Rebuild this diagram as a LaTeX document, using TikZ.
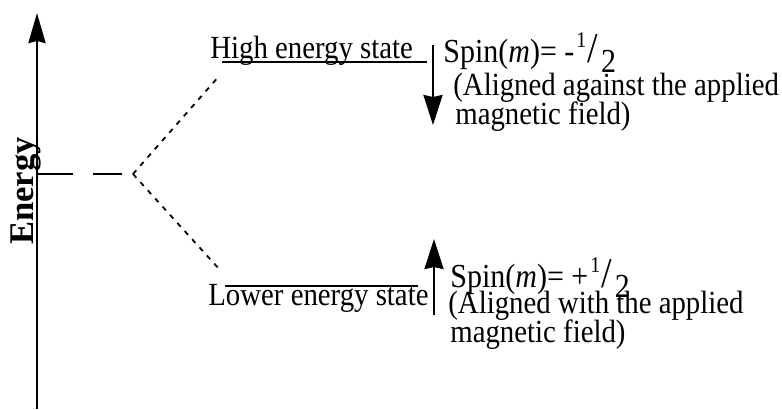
\documentclass[tikz,border=0pt]{standalone}
\usepackage{fontspec}
\setmainfont{Liberation Serif}
\usetikzlibrary{arrows.meta}
\newcommand{\tall}[1]{\scalebox{1}[1.12]{#1}}
\newcommand{\half}[1]{#1\kern1pt\raisebox{6.5pt}{\fontsize{10}{10}\selectfont 1}\kern0.5pt{\fontsize{19}{19}\selectfont /}\kern1.5pt\raisebox{-4.5pt}{2}}

\begin{document}
\begin{tikzpicture}[
  x=0.5pt, y=-0.5pt,
  axis/.style={line width=1.4pt, -{Stealth[length=15pt,width=8.5pt,inset=1pt]}},
  level/.style={line width=1pt},
  split/.style={line width=0.9pt, dash pattern=on 2.5pt off 3pt},
  base/.style={line width=1.3pt, dash pattern=on 18pt off 10pt on 14.5pt off 5.5pt},
  spinarr/.style={line width=1.2pt, -{Stealth[length=15pt,width=9.5pt,inset=1pt]}},
  lbl/.style={anchor=base west, inner sep=0pt, font=\fontsize{14.4}{16}\selectfont},
  spinlbl/.style={lbl, font=\fontsize{15}{17}\selectfont}
]
  \useasboundingbox (0,0) rectangle (782,409);

  % energy axis
  \coordinate (ax0) at (37,409);
  \coordinate (ax1) at (37,13);
  \draw[axis] (ax0) -- (ax1);
  \node[rotate=90, anchor=base, inner sep=0pt, font=\fontsize{17.3}{20}\selectfont\bfseries]
    (energy) at (33,191) {Energy};

  % splitting
  \coordinate (e0) at (37,174);
  \coordinate (fork) at (133,174);
  \coordinate (hiend) at (220,75);
  \coordinate (loend) at (220,270);
  \draw[base] (e0) -- (fork);
  \draw[split] (fork) -- (hiend);
  \draw[split] (fork) -- (loend);

  % levels
  \coordinate (hl) at (222,62);
  \coordinate (hr) at (427,62);
  \coordinate (ll) at (225,286);
  \coordinate (lr) at (418,286);
  \draw[level] (hl) -- (hr);
  \draw[level] (ll) -- (lr);
  \node[lbl] (hitxt) at (210,58) {\tall{High energy state}};
  \node[lbl] (lotxt) at (208,305) {\tall{Lower energy state}};

  % spins
  \coordinate (dn0) at (433,45);
  \coordinate (dn1) at (433,125);
  \coordinate (up0) at (434,315);
  \coordinate (up1) at (434,239);
  \draw[spinarr] (dn0) -- (dn1);
  \draw[spinarr] (up0) -- (up1);

  \node[spinlbl] (spinhi) at (443,62) {\tall{Spin(\textit{m})= \half{-}}};
  \node[lbl] (hi1) at (453,95) {\tall{(Aligned against the applied}};
  \node[lbl] (hi2) at (455,124) {\tall{magnetic field)}};

  \node[spinlbl] (spinlo) at (450,287) {\tall{Spin(\textit{m})= \half{+}}};
  \node[lbl] (lo1) at (448,313) {\tall{(Aligned with the applied}};
  \node[lbl] (lo2) at (450,342) {\tall{magnetic field)}};
\end{tikzpicture}
\end{document}
